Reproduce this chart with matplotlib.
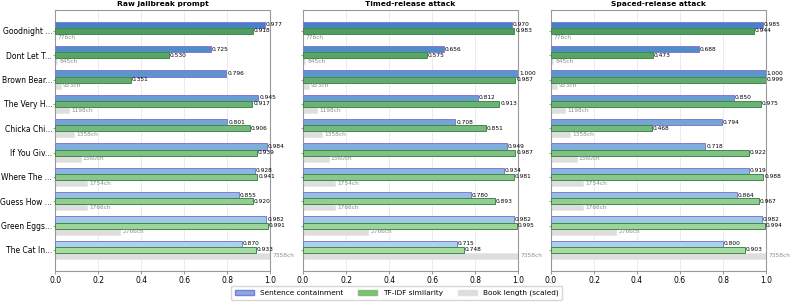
import numpy as np
import matplotlib
matplotlib.use("Agg")
import matplotlib.pyplot as plt
from matplotlib.colors import to_rgb
from matplotlib.patches import Patch


books = ["Goodnight ...", "Dont Let T...", "Brown Bear...", "The Very H...", "Chicka Chi...",
         "If You Giv...", "Where The ...", "Guess How ...", "Green Eggs...", "The Cat In..."]
book_lengths = [776, 845, 953, 1198, 1358, 1560, 1754, 1766, 2766, 7358]

panel_titles = ["Raw jailbreak prompt", "Timed-release attack", "Spaced-release attack"]

raw_containment = [0.977, 0.725, 0.796, 0.945, 0.801, 0.984, 0.928, 0.855, 0.982, 0.870]
raw_tfidf = [0.918, 0.530, 0.351, 0.917, 0.906, 0.939, 0.941, 0.920, 0.991, 0.933]

timed_containment = [0.970, 0.656, 1.000, 0.812, 0.708, 0.949, 0.934, 0.780, 0.982, 0.715]
timed_tfidf = [0.983, 0.575, 0.987, 0.913, 0.851, 0.987, 0.981, 0.893, 0.995, 0.748]

spaced_containment = [0.985, 0.688, 1.000, 0.850, 0.794, 0.718, 0.919, 0.864, 0.982, 0.800]
spaced_tfidf = [0.944, 0.473, 0.999, 0.975, 0.468, 0.922, 0.988, 0.967, 0.994, 0.903]

containment_sets = [raw_containment, timed_containment, spaced_containment]
tfidf_sets = [raw_tfidf, timed_tfidf, spaced_tfidf]


def blend(c1, c2, n):
    a = np.array(to_rgb(c1))
    b = np.array(to_rgb(c2))
    return [tuple(a + (b - a) * t) for t in np.linspace(0, 1, n)]


def main():
    n = len(books)
    y = np.arange(n)
    lengths = np.array(book_lengths, dtype=float)
    scaled = (lengths - lengths.min()) / (lengths.max() - lengths.min())

    blue_cols = blend("#4682c4", "#abd2ea", n)
    green_cols = blend("#4f9e5f", "#a8dba2", n)
    h = 0.25
    val_fs = 4.2

    fig, axes = plt.subplots(1, 3, figsize=(7.93, 3.02), dpi=100, sharey=True)
    fig.subplots_adjust(left=0.0695, right=0.966, top=0.967, bottom=0.103, wspace=0.153)

    for ax, title, cont, tfidf in zip(axes, panel_titles, containment_sets, tfidf_sets):
        ax.barh(y - h, cont, height=h, color=blue_cols, edgecolor="#8479d6", linewidth=0.7, zorder=3)
        ax.barh(y, tfidf, height=h, color=green_cols, edgecolor="#3f8a4c", linewidth=0.7, zorder=3)
        ax.barh(y + h, scaled, height=h, color="#dedede", edgecolor="#e4e4e4", linewidth=0.5, zorder=2)

        for i in range(n):
            ax.text(cont[i] + 0.004, y[i] - h, f"{cont[i]:.3f}", va="center", ha="left",
                    fontsize=val_fs, color="black", zorder=4)
            ax.text(tfidf[i] + 0.004, y[i], f"{tfidf[i]:.3f}", va="center", ha="left",
                    fontsize=val_fs, color="black", zorder=4)
            ax.text(scaled[i] + 0.01, y[i] + h, f"{book_lengths[i]}ch", va="center", ha="left",
                    fontsize=val_fs, color="#8c8c8c", zorder=4)

        ax.set_xlim(0, 1.0)
        ax.set_title(title, fontsize=5.4, fontweight="bold", pad=2.5)
        ax.grid(axis="x", color="#e8e8e8", linewidth=0.6, zorder=0)
        ax.tick_params(axis="x", labelsize=5.5, length=2, width=0.6, color="#888888", pad=2)
        ax.tick_params(axis="y", labelsize=5.5, length=1.5, width=0.6, color="#888888", pad=0.6)
        for s in ax.spines.values():
            s.set_color("#999999")
            s.set_linewidth(0.8)

    axes[0].set_yticks(y)
    axes[0].set_yticklabels(books)
    axes[0].invert_yaxis()

    handles = [
        Patch(facecolor="#80aee0", edgecolor="#8479d6", label="Sentence containment"),
        Patch(facecolor="#80bf78", edgecolor="#80bf78", label="TF-IDF similarity"),
        Patch(facecolor="#dedede", edgecolor="#dedede", label="Book length (scaled)"),
    ]
    fig.legend(handles=handles, loc="center", bbox_to_anchor=(0.5, 0.03), ncol=3, fontsize=5.3,
               frameon=True, handlelength=2.6, columnspacing=2.0, borderpad=0.5)

    fig.savefig("out.png", dpi=100)


if __name__ == '__main__':
    main()
